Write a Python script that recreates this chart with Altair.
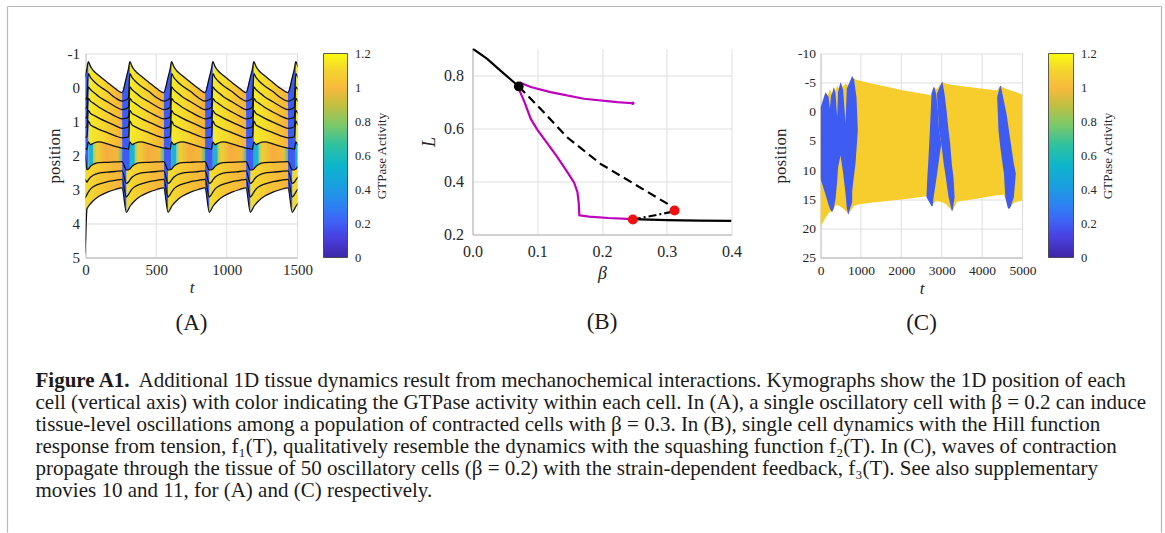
import altair as alt
import pandas as pd

FONT = "Liberation Serif"
TXT = "#262626"
GRID = "#DFDFDF"
DOMAIN = "#B3B3B3"
BLUE = "#3E5CF2"
CYAN = "#1DB4CF"
YELLOW_C = "#F7CC2D"

# ---------------- Panel A: kymograph, 11 cell boundaries ----------------
TAU = [0, 30, 45, 55, 70, 90, 130, 190, 245, 293]      # time within one contraction cycle
A_BOUNDARY = [                                          # position of each boundary at TAU
    [0.15, -0.30, -0.55, -0.76, -0.62, -0.50, -0.35, -0.15, 0.03, 0.15],
    [0.40, 0.36, 0.30, -0.41, -0.30, -0.20, -0.05, 0.12, 0.30, 0.40],
    [0.65, 0.62, 0.58, -0.02, 0.06, 0.13, 0.27, 0.42, 0.56, 0.65],
    [0.92, 0.90, 0.86, 0.32, 0.40, 0.46, 0.58, 0.72, 0.84, 0.92],
    [1.20, 1.18, 1.15, 0.67, 0.76, 0.81, 0.90, 1.02, 1.12, 1.20],
    [1.48, 1.47, 1.45, 0.98, 1.10, 1.15, 1.23, 1.33, 1.42, 1.48],
    [1.78, 1.80, 1.82, 1.60, 1.68, 1.64, 1.60, 1.66, 1.73, 1.78],
    [2.18, 2.42, 2.42, 2.40, 2.32, 2.26, 2.21, 2.20, 2.19, 2.18],
    [2.45, 2.82, 2.78, 2.72, 2.64, 2.58, 2.52, 2.49, 2.47, 2.45],
    [2.70, 3.22, 3.15, 3.08, 2.99, 2.92, 2.84, 2.77, 2.73, 2.70],
    [2.95, 3.67, 3.58, 3.50, 3.42, 3.33, 3.20, 3.08, 3.00, 2.95],
]
A_SPIKE_START = [-35, 259, 554, 846, 1136, 1433]
A_FIRST = {7: (1.95, 1.95), 8: (2.70, 2.70), 9: (3.25, 3.25), 10: (4.95, 4.90)}
A_XTICKS = [0, 500, 1000, 1500]
A_YTICKS = [-1, 0, 1, 2, 3, 4, 5]

# ---------------- Panel B: bifurcation diagram ----------------
B_SOLID1_BETA = [0.0, 0.0227, 0.0432, 0.0715]
B_SOLID1_L = [0.900, 0.861, 0.817, 0.757]
B_SOLID2_BETA = [0.2476, 0.30, 0.35, 0.40]
B_SOLID2_L = [0.258, 0.254, 0.252, 0.251]
B_DASH_BETA = [0.0715, 0.105, 0.1462, 0.1977, 0.2492, 0.3007, 0.311]
B_DASH_L = [0.757, 0.673, 0.566, 0.466, 0.391, 0.316, 0.293]
B_DASHDOT_BETA = [0.2476, 0.28, 0.3058, 0.312]
B_DASHDOT_L = [0.2565, 0.2716, 0.284, 0.290]
B_MAG_UP_BETA = [0.073, 0.09, 0.1205, 0.172, 0.2235, 0.2476]
B_MAG_UP_L = [0.772, 0.755, 0.736, 0.711, 0.698, 0.694]
B_MAG_LOW_BETA = [0.0715, 0.08, 0.09, 0.10, 0.115, 0.13, 0.145, 0.157, 0.162, 0.164, 0.165, 0.18, 0.21, 0.2476]
B_MAG_LOW_L = [0.748, 0.700, 0.635, 0.595, 0.545, 0.495, 0.440, 0.395, 0.360, 0.320, 0.272, 0.267, 0.262, 0.258]
B_BLACK_DOT = ([0.0715], [0.757])
B_RED_DOTS = ([0.2476, 0.312], [0.2565, 0.290])
B_MAG_END = ([0.2476], [0.694])
B_XTICKS = [0.0, 0.1, 0.2, 0.3, 0.4]
B_YTICKS = [0.2, 0.4, 0.6, 0.8]

# ---------------- Panel C: tissue of 50 cells ----------------
C_ENV_T = [0, 124, 165, 231, 289, 330, 371, 412, 454, 495, 560, 619, 685, 784, 825, 924, 1237, 2062,
           2640, 2722, 2764, 2805, 2880, 3011, 3100, 3259, 3383, 3712, 4372, 4455, 4538, 4661, 4785, 5000]
C_ENV_TOP = [-0.7, -3.36, -2.5, -3.93, -3.0, -4.22, -3.6, -4.5, -4.0, -5.08, -4.3, -4.8, -4.5, -6.05, -5.65,
             -5.4, -4.9, -3.65, -2.95, -2.8, -3.5, -4.22, -3.9, -5.1, -4.85, -4.6, -4.5, -4.2, -3.65, -4.5,
             -4.1, -3.8, -3.5, -2.96]
C_ENV_BOT = [19.8, 18.2, 17.8, 17.1, 17.2, 16.5, 16.1, 16.0, 16.1, 16.3, 16.6, 17.0, 17.6, 16.6, 16.2,
             15.9, 15.6, 15.0, 14.5, 14.6, 16.2, 15.6, 15.3, 15.5, 15.8, 17.0, 15.4, 15.1, 14.3, 14.3,
             14.2, 16.7, 15.6, 15.2]
# first burst of contraction waves (blue), with yellow notches entering from top and bottom
C_WAVE1_T = [0, 124, 200, 231, 262, 289, 330, 371, 412, 435, 495, 560, 619, 650, 685, 784]
C_WAVE1_TOP = [-0.7, -3.36, -2.6, -0.5, -2.8, -3.2, -4.22, -3.2, 1.0, -3.4, -5.08, -3.8, 2.0, -3.9, -4.5, -6.05]
C_WAVE1_BOT = [11.5, 14.2, 16.0, 16.6, 17.0, 17.2, 16.5, 15.0, 12.0, 9.5, 7.5, 10.5, 14.0, 16.5, 17.6, 15.5]
# blue stripes given row by row: position, left t, right t
C_STRIPES = {
    "w1_edge": ([-6.05, -5.6, -2.5, 3.2, 8.9, 13.5, 17.6], [770, 770, 760, 750, 740, 700, 680],
                [786, 830, 891, 924, 866, 784, 690]),
    "w2_left": ([-4.22, -3.08, -0.22, 3.21, 5.5, 8.93, 11.2, 14.66, 16.2],
                [2795, 2747, 2730, 2706, 2690, 2665, 2645, 2623, 2750],
                [2815, 2863, 2905, 2935, 2990, 2920, 2875, 2800, 2775]),
    "w2_right": ([-5.1, -3.08, -0.22, 3.21, 5.5, 8.93, 11.2, 14.66, 17.0],
                 [3004, 2880, 2905, 2935, 2990, 3050, 3100, 3170, 3250],
                 [3018, 3070, 3120, 3170, 3210, 3250, 3290, 3320, 3270]),
    "w3": ([-4.4, -2.5, 0.35, 3.2, 6.1, 8.9, 10.6, 14.7, 16.6],
           [4440, 4372, 4390, 4405, 4450, 4505, 4540, 4575, 4640],
           [4465, 4520, 4605, 4665, 4725, 4785, 4835, 4785, 4690]),
}
C_XTICKS = [0, 1000, 2000, 3000, 4000, 5000]
C_YTICKS = [-10, -5, 0, 5, 10, 15, 20, 25]

CB_TICKS = [0, 0.2, 0.4, 0.6, 0.8, 1.0, 1.2]
PARULA = [(0.00, "#3E26A8"), (0.10, "#4840E0"), (0.18, "#3E63F6"), (0.26, "#2C83F1"), (0.35, "#1A9FE0"),
          (0.45, "#0DB5CC"), (0.55, "#2EC2A0"), (0.65, "#7CC86A"), (0.75, "#C4BF3F"), (0.83, "#F8BA3D"),
          (0.92, "#F5D52D"), (1.00, "#F9FB0E")]

CAPTION_BOLD = "Figure A1."
CAPTION = [
    "Additional 1D tissue dynamics result from mechanochemical interactions. Kymographs show the 1D position of each",
    "cell (vertical axis) with color indicating the GTPase activity within each cell. In (A), a single oscillatory cell with β = 0.2 can induce",
    "tissue-level oscillations among a population of contracted cells with β = 0.3. In (B), single cell dynamics with the Hill function",
    "response from tension, f₁(T), qualitatively resemble the dynamics with the squashing function f₂(T). In (C), waves of contraction",
    "propagate through the tissue of 50 oscillatory cells (β = 0.2) with the strain-dependent feedback, f₃(T). See also supplementary",
    "movies 10 and 11, for (A) and (C) respectively.",
]

PANEL_H = 209     # rows are top-aligned; A and C start 5 px lower than B


def grad(stops, vertical=False):
    return alt.LinearGradient(
        gradient="linear",
        stops=[alt.GradientStop(offset=o, color=c) for o, c in stops],
        x1=0, y1=1 if vertical else 0, x2=0 if vertical else 1, y2=0,
    )


G_UP = grad([(0, "#F3EC25"), (0.45, "#F7D62E"), (1, "#F6B13C")])
G_MID = grad([(0, "#B5C84E"), (0.12, "#EDD034"), (0.45, "#F6AD3D"), (0.85, "#F4B93A"), (1, "#47C0A0")])
G_LOW = grad([(0, "#F2DF2B"), (0.5, "#F6C435"), (1, "#F5B23C")])
G_PARULA = grad(PARULA, vertical=True)

# ---------------- build panel A tables ----------------
PEAK = TAU.index(55)
line_rows, area_rows = [], []
n_cyc = len(A_SPIKE_START)
for c in range(n_cyc):
    ts = A_SPIKE_START[c]
    end = A_SPIKE_START[c + 1] if c + 1 < n_cyc else ts + TAU[-1]
    times = [ts + x for x in TAU[:-1]] + [end]
    vals = []
    for b, prof in enumerate(A_BOUNDARY):
        v = list(prof)
        if c == 0 and b in A_FIRST:
            v[0], v[1] = A_FIRST[b]
        vals.append(v)
    last = len(TAU) if c == n_cyc - 1 else len(TAU) - 1
    for b in range(len(A_BOUNDARY)):
        for i in range(last):
            line_rows.append({"t": times[i], "pos": vals[b][i], "b": b})
    for j in range(len(A_BOUNDARY) - 1):
        if j <= 5:
            phases = [("blue", 0, PEAK), ("up", PEAK, 9)]
        elif j == 6:
            phases = [("blue", 0, PEAK), ("cyan", PEAK, PEAK + 2), ("mid", PEAK + 2, 9)]
        else:
            phases = [("blue", 0, 1), ("low", 1, 9)]
        for ph, i0, i1 in phases:
            for i in range(i0, i1 + 1):
                area_rows.append({"t": times[i], "top": vals[j][i], "bot": vals[j + 1][i],
                                  "ph": ph, "key": f"{c}-{j}-{ph}"})
linesA = pd.DataFrame(line_rows)
areasA = pd.DataFrame(area_rows)

ax_common = dict(ticks=False, labelFlush=False, labelOverlap=False)

xA = alt.X("t:Q", scale=alt.Scale(domain=[0, 1500], nice=False, zero=False),
           axis=alt.Axis(values=A_XTICKS, format="d", title="t", titleFontStyle="italic", grid=False,
                         labelPadding=5, titlePadding=2, **ax_common))
yA_axis = alt.Axis(values=A_YTICKS, labelExpr="'' + datum.value", title="position", grid=True,
                   labelPadding=6, titlePadding=4, **ax_common)
yA_scale = alt.Scale(domain=[A_YTICKS[0], A_YTICKS[-1]], range=[5, PANEL_H], nice=False, zero=False)


def a_area(ph, fill):
    return (alt.Chart(areasA).transform_filter(alt.datum.ph == ph)
            .mark_area(interpolate="monotone", fill=fill, clip=True)
            .encode(x=xA, y=alt.Y("top:Q", scale=yA_scale, axis=yA_axis), y2="bot:Q", detail="key:N"))


a_grid = (alt.Chart(pd.DataFrame({"t": A_XTICKS, "lo": A_YTICKS[0], "hi": A_YTICKS[-1]}))
          .mark_rule(color=GRID, strokeWidth=1)
          .encode(x=xA, y=alt.Y("lo:Q", scale=yA_scale, axis=yA_axis), y2="hi:Q"))
a_lines = (alt.Chart(linesA).mark_line(interpolate="monotone", color="#111111", strokeWidth=1.3, clip=True)
           .encode(x=xA, y=alt.Y("pos:Q", scale=yA_scale, axis=yA_axis), detail="b:N"))

chartA = alt.layer(
    a_grid, a_area("up", G_UP), a_area("mid", G_MID), a_area("low", G_LOW),
    a_area("blue", BLUE), a_area("cyan", CYAN), a_lines,
).properties(width=212, height=PANEL_H,
             title=alt.TitleParams("(A)", orient="bottom", anchor="middle", frame="group",
                                   offset=16, fontSize=23, font=FONT, fontWeight="normal", color="#1A1A1A"))

# ---------------- panel B ----------------
xB = alt.X("beta:Q", scale=alt.Scale(domain=[0, 0.4], nice=False, zero=False),
           axis=alt.Axis(values=B_XTICKS, format=".1f", title="β", titleFontStyle="italic", grid=True,
                         labelFontSize=16, titleFontSize=18, labelPadding=9, titlePadding=5, **ax_common))
yB = alt.Y("L:Q", scale=alt.Scale(domain=[0.2, 0.9], nice=False, zero=False),
           axis=alt.Axis(values=B_YTICKS, format=".1f", title="L", titleFontStyle="italic", grid=True,
                         labelFontSize=16, titleFontSize=18, labelPadding=9, titlePadding=5, **ax_common))


def bdf(betas, ls):
    return pd.DataFrame({"beta": betas, "L": ls, "ord": list(range(len(betas)))})


def bline(betas, ls, color, dash=None):
    kw = dict(color=color, strokeWidth=2.2, clip=True)
    if dash:
        kw["strokeDash"] = dash
    return alt.Chart(bdf(betas, ls)).mark_line(**kw).encode(x=xB, y=yB, order="ord:Q")


MAG = "#BE00BE"
chartB = alt.layer(
    bline(B_DASH_BETA, B_DASH_L, "#000000", [9, 5]),
    bline(B_DASHDOT_BETA, B_DASHDOT_L, "#000000", [8, 3, 2, 3]),
    bline(B_SOLID1_BETA, B_SOLID1_L, "#000000"),
    bline(B_SOLID2_BETA, B_SOLID2_L, "#000000"),
    bline(B_MAG_UP_BETA, B_MAG_UP_L, MAG),
    bline(B_MAG_LOW_BETA, B_MAG_LOW_L, MAG),
    alt.Chart(bdf(*B_MAG_END)).mark_circle(size=12, color=MAG, opacity=1).encode(x=xB, y=yB),
    alt.Chart(bdf(*B_BLACK_DOT)).mark_circle(size=95, color="#000000", opacity=1).encode(x=xB, y=yB),
    alt.Chart(bdf(*B_RED_DOTS)).mark_circle(size=100, color="#F01010", opacity=1).encode(x=xB, y=yB),
).properties(width=259, height=186,
             title=alt.TitleParams("(B)", orient="bottom", anchor="middle", frame="group",
                                   offset=28, fontSize=23, font=FONT, fontWeight="normal", color="#1A1A1A"))

# ---------------- panel C ----------------
xC = alt.X("t:Q", scale=alt.Scale(domain=[0, 5000], nice=False, zero=False),
           axis=alt.Axis(values=C_XTICKS, format="d", title="t", titleFontStyle="italic", grid=False,
                         labelFontSize=13.5, labelPadding=6, titlePadding=3, **ax_common))
yC_axis = alt.Axis(values=C_YTICKS, labelExpr="'' + datum.value", title="position", grid=True,
                   labelFontSize=13.5, labelPadding=5, titlePadding=8, **ax_common)
yC_scale = alt.Scale(domain=[C_YTICKS[0], C_YTICKS[-1]], range=[5, PANEL_H], nice=False, zero=False)

envC = pd.DataFrame({"t": C_ENV_T, "top": C_ENV_TOP, "bot": C_ENV_BOT})
wave1 = pd.DataFrame({"t": C_WAVE1_T, "top": C_WAVE1_TOP, "bot": C_WAVE1_BOT})


def rows_df(d):
    rows = []
    for k, (ps, lo, hi) in d.items():
        for p, a, b in zip(ps, lo, hi):
            rows.append({"pos": p, "t": a, "t2": b, "k": k})
    return pd.DataFrame(rows)


stripes = rows_df(C_STRIPES)


def c_vert(df, fill):
    return alt.Chart(df).mark_area(fill=fill, clip=True).encode(
        x=xC, y=alt.Y("top:Q", scale=yC_scale, axis=yC_axis), y2="bot:Q")


def c_horiz(df, fill):
    return alt.Chart(df).mark_area(fill=fill, orient="horizontal", clip=True).encode(
        y=alt.Y("pos:Q", scale=yC_scale, axis=yC_axis), x=xC, x2="t2:Q", detail="k:N")


c_grid = (alt.Chart(pd.DataFrame({"t": C_XTICKS, "lo": C_YTICKS[0], "hi": C_YTICKS[-1]}))
          .mark_rule(color=GRID, strokeWidth=1)
          .encode(x=xC, y=alt.Y("lo:Q", scale=yC_scale, axis=yC_axis), y2="hi:Q"))

chartC = alt.layer(
    c_grid, c_vert(envC, YELLOW_C), c_vert(wave1, BLUE), c_horiz(stripes, BLUE),
).properties(width=202, height=PANEL_H,
             title=alt.TitleParams("(C)", orient="bottom", anchor="middle", frame="group",
                                   offset=16, fontSize=23, font=FONT, fontWeight="normal", color="#1A1A1A"))


# ---------------- colour bars ----------------
def colorbar(width):
    return alt.Chart(pd.DataFrame({"lo": [CB_TICKS[0]], "hi": [CB_TICKS[-1]]})).mark_rect(
        fill=G_PARULA, stroke="#333333", strokeWidth=0.8).encode(
        y=alt.Y("lo:Q", scale=alt.Scale(domain=[CB_TICKS[0], CB_TICKS[-1]], range=[PANEL_H, 5],
                                        nice=False, zero=False),
                axis=alt.Axis(orient="right", values=CB_TICKS, format="~g", title="GTPase Activity",
                              titleAngle=270, titleBaseline="top", labelFontSize=12.5, titleFontSize=13,
                              grid=False, domain=False, ticks=False, labelPadding=7, titlePadding=5,
                              labelFlush=False, labelOverlap=False)),
        y2="hi:Q").properties(width=width, height=PANEL_H)


def spacer(w, h):
    return alt.Chart(pd.DataFrame({"s": [0]})).mark_point(opacity=0).encode(
        x=alt.value(0), y=alt.value(0)).properties(width=w, height=h)


# ---------------- caption ----------------
cap_df = pd.DataFrame({"line": list(range(len(CAPTION))), "txt": CAPTION})
bold_df = pd.DataFrame({"line": [0], "txt": [CAPTION_BOLD]})
yCap = alt.Y("line:O", axis=None, scale=alt.Scale(type="point", domain=list(range(len(CAPTION))), padding=0.5))
CAP_SIZE = 21
cap_bold = alt.Chart(bold_df).mark_text(align="left", baseline="middle", font=FONT, fontSize=CAP_SIZE,
                                        fontWeight="bold", color="#1A1A1A").encode(
    x=alt.value(0), y=yCap, text="txt:N")
cap_first = alt.Chart(cap_df).transform_filter(alt.datum.line == 0).mark_text(
    align="left", baseline="middle", font=FONT, fontSize=CAP_SIZE, color="#1A1A1A", dx=103).encode(
    x=alt.value(0), y=yCap, text="txt:N")
cap_rest = alt.Chart(cap_df).transform_filter(alt.datum.line > 0).mark_text(
    align="left", baseline="middle", font=FONT, fontSize=CAP_SIZE, color="#1A1A1A").encode(
    x=alt.value(0), y=yCap, text="txt:N")
frame_df = pd.DataFrame({"f": [0]})
FR = dict(color="#B8B8B8", strokeWidth=1.2)
frame_top = alt.Chart(frame_df).mark_rule(**FR).encode(x=alt.value(-28), x2=alt.value(1126), y=alt.value(-363))
frame_left = alt.Chart(frame_df).mark_rule(**FR).encode(x=alt.value(-28), y=alt.value(-363), y2=alt.value(163))
frame_right = alt.Chart(frame_df).mark_rule(**FR).encode(x=alt.value(1126), y=alt.value(-363), y2=alt.value(163))
# width 1: the flush grid layout must not widen the first column; the text simply overflows it
caption = alt.layer(frame_top, frame_left, frame_right, cap_bold, cap_first, cap_rest).properties(
    width=1, height=132)

items = [spacer(50, PANEL_H), chartA, spacer(26, PANEL_H), colorbar(24), spacer(125, PANEL_H), chartB,
         spacer(89, PANEL_H), chartC, spacer(26, PANEL_H), colorbar(25), caption]

chart = alt.concat(
    *items, columns=10, spacing={"row": 112, "column": 0}, bounds="flush",
    align={"row": "all", "column": "none"},
).properties(
    padding={"left": 6.5, "top": 5.5, "right": 0, "bottom": 0}
).configure(font=FONT).configure_view(stroke=None).configure_axis(
    labelFont=FONT, titleFont=FONT, labelColor=TXT, titleColor=TXT, gridColor=GRID, gridWidth=1,
    domainColor=DOMAIN, labelFontSize=15, titleFontSize=17, titleFontWeight="normal",
)

chart.save("out.html", embed_options={"renderer": "svg", "actions": False})
